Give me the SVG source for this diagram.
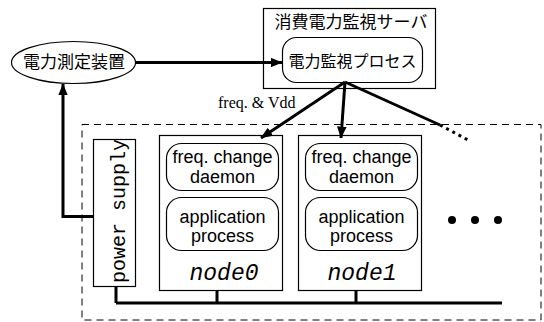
<svg xmlns="http://www.w3.org/2000/svg" width="544" height="322" viewBox="0 0 544 322">
  <style>
    .box { fill: #fff; stroke: #000; stroke-width: 1.2; }
    .rbox { fill: #fff; stroke: #000; stroke-width: 1.2; }
    .wire { fill: none; stroke: #000; stroke-width: 3; }
    .jp { font-family: "Liberation Serif", "Noto Sans CJK JP", serif; fill: #000; }
    .sans { font-family: "Liberation Sans", Arial, sans-serif; font-size: 18px; fill: #000; text-anchor: middle; }
    .mono { font-family: "Liberation Mono", "Courier New", monospace; fill: #000; }
    .serif { font-family: "Liberation Serif", "Times New Roman", serif; fill: #000; }
  </style>
  <defs>
    <marker id="arrow" viewBox="0 0 10 8" refX="9.5" refY="4" markerWidth="4" markerHeight="3.2" markerUnits="strokeWidth" orient="auto">
      <path d="M0,0 L10,4 L0,8 Z" fill="#000"/>
    </marker>
  </defs>

  <!-- cluster boundary -->
  <rect id="cluster" x="82" y="124.5" width="459" height="195.5" fill="none" stroke="#000" stroke-width="1" stroke-dasharray="7 5"/>

  <!-- power meter -->
  <g id="power-meter">
    <ellipse cx="73.5" cy="62.5" rx="62" ry="21" class="box"/>
    <text x="74" y="62.5" class="jp" font-size="17" text-anchor="middle" dominant-baseline="central">電力測定装置</text>
  </g>

  <!-- monitoring server -->
  <g id="server">
    <rect x="263.5" y="8.5" width="172" height="80" class="box"/>
    <text x="351" y="22.5" class="jp" font-size="17" text-anchor="middle" dominant-baseline="central">消費電力監視サーバ</text>
    <g id="monitor-process">
      <rect x="282.5" y="37.5" width="140" height="45" rx="14" class="rbox"/>
      <text x="352.5" y="61.5" class="jp" font-size="16" text-anchor="middle" dominant-baseline="central">電力監視プロセス</text>
    </g>
  </g>

  <!-- power supply -->
  <g id="power-supply">
    <rect x="93.5" y="139.5" width="42" height="147" class="box"/>
    <text transform="translate(124.5,211) rotate(-90)" class="mono" font-size="20" text-anchor="middle">power supply</text>
  </g>

  <!-- node0 -->
  <g id="node0">
    <rect x="159.5" y="135.5" width="123" height="155" class="box"/>
    <rect x="166.5" y="143.5" width="112" height="47" rx="15" class="rbox"/>
    <text class="sans"><tspan x="222.5" y="163">freq. change</tspan><tspan x="222.5" y="183">daemon</tspan></text>
    <rect x="166.5" y="197.5" width="112" height="53" rx="15" class="rbox"/>
    <text class="sans"><tspan x="222.5" y="223">application</tspan><tspan x="222.5" y="242">process</tspan></text>
    <text x="224" y="280" class="mono" font-size="23" font-style="italic" text-anchor="middle">node0</text>
  </g>

  <!-- node1 -->
  <g id="node1">
    <rect x="298.5" y="135.5" width="123" height="155" class="box"/>
    <rect x="305.5" y="143.5" width="112" height="47" rx="15" class="rbox"/>
    <text class="sans"><tspan x="361.5" y="163">freq. change</tspan><tspan x="361.5" y="183">daemon</tspan></text>
    <rect x="305.5" y="197.5" width="112" height="53" rx="15" class="rbox"/>
    <text class="sans"><tspan x="361.5" y="223">application</tspan><tspan x="361.5" y="242">process</tspan></text>
    <text x="362" y="280" class="mono" font-size="23" font-style="italic" text-anchor="middle">node1</text>
  </g>

  <!-- further nodes -->
  <g id="more-nodes">
    <circle cx="452" cy="220" r="4"/>
    <circle cx="475" cy="220" r="4"/>
    <circle cx="498" cy="220" r="4"/>
  </g>

  <!-- connectors -->
  <g id="connectors">
    <line x1="136" y1="62.5" x2="282" y2="62.5" class="wire" marker-end="url(#arrow)"/>
    <polyline points="93,216.5 63,216.5 63,84" class="wire" marker-end="url(#arrow)"/>
    <line x1="345" y1="82" x2="261" y2="138" class="wire" marker-end="url(#arrow)"/>
    <line x1="345" y1="82" x2="341" y2="138" class="wire" marker-end="url(#arrow)"/>
    <line x1="345" y1="82" x2="440" y2="125" class="wire"/>
    <line x1="440" y1="125" x2="468" y2="140" class="wire" stroke-dasharray="3 4"/>
    <text x="218" y="108" class="serif" font-size="16">freq. &amp; Vdd</text>
    <!-- interconnect bus -->
    <line x1="116" y1="303" x2="502" y2="303" class="wire"/>
    <line x1="116" y1="286" x2="116" y2="303" class="wire"/>
    <line x1="217" y1="290" x2="217" y2="303" class="wire"/>
    <line x1="356" y1="290" x2="356" y2="303" class="wire"/>
  </g>
</svg>
